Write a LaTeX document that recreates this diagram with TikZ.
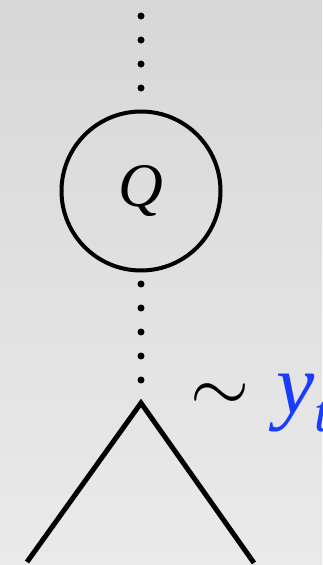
\documentclass[tikz,border=0pt]{standalone}
\usepackage{fix-cm}
\usepackage{fontspec}
\setmainfont{Liberation Serif}
\definecolor{bgtop}{RGB}{215,215,215}
\definecolor{bgbot}{RGB}{234,234,234}
\definecolor{yblue}{RGB}{25,60,255}
\tikzset{
  dotline/.style={line width=7pt, line cap=round, dash pattern=on 0pt off 24pt},
  circnode/.style={circle, draw, line width=4pt, minimum size=159pt, inner sep=0pt, outer sep=0pt, font=\fontsize{62}{62}\selectfont\itshape},
  leg/.style={line width=5pt, line join=miter},
  tilde/.style={font=\fontsize{76}{76}\selectfont, inner sep=0pt, anchor=base},
  lab/.style={font=\fontsize{86}{86}\selectfont\itshape, text=yblue, inner sep=0pt, anchor=base west}
}
\begin{document}
\begin{tikzpicture}[x=1pt,y=-1pt]
\shade[top color=bgtop, bottom color=bgbot] (0,0) rectangle (322,565);
\useasboundingbox (0,0) rectangle (322,565);
\coordinate (top) at (141,16);
\node[circnode] (q) at (141,191) {Q};
\coordinate (b0) at (141,284);
\coordinate (b1) at (141,381);
\coordinate (apex) at (141,403);
\coordinate (lft) at (27,562);
\coordinate (rgt) at (254,563);
\draw[dotline] (top) -- (q.north);
\draw[dotline] (b0) -- (b1);
\draw[leg] (lft) -- (apex) -- (rgt);
\node[tilde] (sim) at (220,411) {$\sim$};
\node[lab] (y) at (276,413) {y\raisebox{-0.22em}{\fontsize{56}{56}\selectfont t}};
\end{tikzpicture}
\end{document}
